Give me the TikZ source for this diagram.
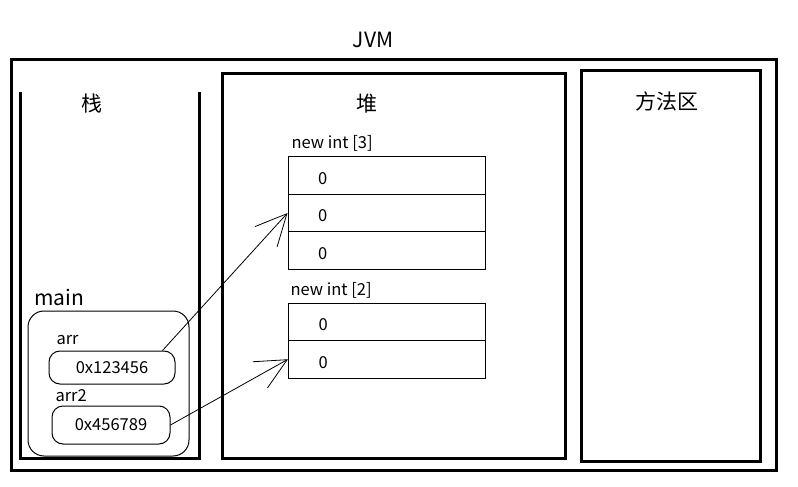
\documentclass[tikz,border=0pt]{standalone}
\usepackage{fontspec}
\setmainfont{Noto Sans CJK SC}
\usetikzlibrary{arrows.meta, positioning}
\tikzstyle{area}=[draw, line width=3pt, inner sep=0pt]
\tikzstyle{frame}=[draw, line width=1pt, rounded corners=16pt, inner sep=0pt]
\tikzstyle{ref}=[draw, line width=1pt, rounded corners=11pt, inner sep=0pt, font=\fontsize{16.5}{19}\selectfont]
\tikzstyle{cell}=[draw, line width=1pt, minimum width=197pt, inner sep=0pt]
\tikzstyle{small}=[font=\fontsize{16.5}{19}\selectfont]
\tikzstyle{big}=[font=\fontsize{21}{25}\selectfont]
\tikzstyle{pointer}=[line width=0.8pt, -{Straight Barb[length=31pt,width=30pt]}]

\begin{document}
\begin{tikzpicture}[x=1pt, y=-1pt]
        \useasboundingbox (0,0) rectangle (798,487);

        % regions
        \node[area, minimum width=765pt, minimum height=411pt] (jvm)    at (394,265)   {};
        \node[area, minimum width=343pt, minimum height=384pt] (heap)   at (393.5,266) {};
        \node[area, minimum width=179pt, minimum height=390pt] (method) at (670.5,266) {};
        \node[minimum width=178pt, minimum height=366pt, inner sep=0pt] (stack) at (110,275) {};
        \draw[line width=3pt] (stack.north west) -- (stack.south west)
          -- (stack.south east) -- (stack.north east);

        \node[big] (jvmtitle)    at (373,40)  {JVM};
        \node[big] (stacktitle)  at (92,104)  {栈};
        \node[big] (heaptitle)   at (367,104) {堆};
        \node[big] (methodtitle) at (667,101) {方法区};

        % main frame
        \node[big, anchor=west] (mainlbl) at (31,297) {main};
        \node[frame, minimum width=161pt, minimum height=145pt] (main) at (108.5,383.5) {};
        \node[small, anchor=west] (arrlbl)  at (53,340) {arr};
        \node[ref, minimum width=126pt, minimum height=33pt] (arr)  at (112,367.5) {0x123456};
        \node[small, anchor=west] (arr2lbl) at (52,396) {arr2};
        \node[ref, minimum width=118pt, minimum height=38pt] (arr2) at (111,425) {0x456789};

        % arrays
        \node[small, anchor=west] (lbl3) at (288,143) {new int [3]};
        \foreach \i in {1,2,3} {
          \node[cell, minimum height=37.7pt] (a\i) at (386.5,137.65+37.7*\i) {};
          \node[small, right=27pt of a\i.west, yshift=-3pt] (va\i) {0};
        }
        \node[small, anchor=west] (lbl2) at (287,290) {new int [2]};
        \foreach \i in {1,2} {
          \node[cell, minimum height=37.5pt] (b\i) at (387,284.25+37.5*\i) {};
          \node[small, right=27pt of b\i.west, yshift=-3pt] (vb\i) {0};
        }

        \draw[pointer] ([xshift=-13pt]arr.north east) -- (a2.west);
        \draw[pointer] (arr2.east) -- (b2.west);
      \end{tikzpicture}
\end{document}
